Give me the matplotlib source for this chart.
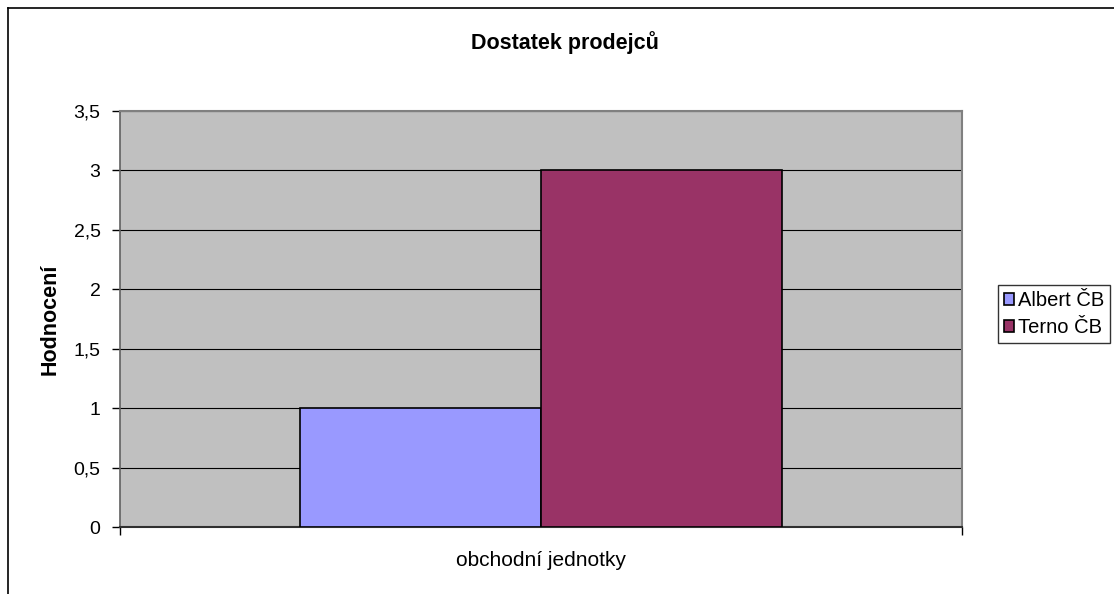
import matplotlib
matplotlib.use("Agg")
import matplotlib.pyplot as plt
from matplotlib.lines import Line2D
from matplotlib.patches import Patch
from matplotlib.ticker import FuncFormatter, MultipleLocator

plt.rcParams["font.family"] = ["Liberation Sans", "DejaVu Sans"]

# ── Data ──────────────────────────────────────────────────────────────
category = "obchodní jednotky"
series = ["Albert ČB", "Terno ČB"]
values = [1, 3]
colors = ["#9999FF", "#993366"]

W, H = 1114, 594
fig = plt.figure(figsize=(W / 100, H / 100), dpi=100, facecolor="white")

# outer chart frame (cut off at right and bottom like the original)
fx, fy = 8 / W, 1 - 8 / H
fig.add_artist(Line2D([fx, 1], [fy, fy], color="black", lw=1.2, transform=fig.transFigure))
fig.add_artist(Line2D([fx, fx], [0, fy], color="black", lw=1.2, transform=fig.transFigure))

ax = fig.add_axes([120 / W, 1 - 527 / H, (962 - 120) / W, (527 - 111) / H])
ax.set_facecolor("#C0C0C0")

bar_w = 0.286
offsets = [-bar_w / 2, bar_w / 2]
for name, val, col, off in zip(series, values, colors, offsets):
    ax.bar(off, val, width=bar_w, color=col, edgecolor="black", linewidth=1.2,
           label=name, zorder=3)

ax.set_xlim(-0.5, 0.5)
ax.set_ylim(0, 3.5)
ax.yaxis.set_major_locator(MultipleLocator(0.5))
ax.yaxis.set_major_formatter(FuncFormatter(lambda v, p: f"{v:g}".replace(".", ",")))
ax.grid(axis="y", color="black", lw=0.8, zorder=1)

ax.set_xticks([-0.5, 0.5])
ax.set_xticklabels(["", ""])
ax.tick_params(axis="x", length=6, color="black", width=1)
ax.tick_params(axis="y", length=6, color="black", width=1, labelsize=14, pad=8)
fig.text(541 / W, 1 - 560 / H, category, ha="center", va="center", fontsize=15)

for side in ["top", "right"]:
    ax.spines[side].set_color("#808080")
    ax.spines[side].set_linewidth(1.5)
ax.spines["bottom"].set_color("#303030")
ax.spines["bottom"].set_linewidth(1.5)
ax.spines["left"].set_color("#606060")
ax.spines["left"].set_linewidth(1.2)

fig.text(565 / W, 1 - 43 / H, "Dostatek prodejců", ha="center", va="center",
         fontsize=15.5, fontweight="bold")
fig.text(50 / W, 1 - 319 / H, "Hodnocení", ha="center", va="center",
         fontsize=15.5, fontweight="bold", rotation=90)

handles = [Patch(facecolor=c, edgecolor="black", lw=1.2) for c in colors]
leg = fig.legend(handles, series, loc="center left",
                 bbox_to_anchor=(998 / W, 1 - 314 / H), fontsize=14.5,
                 frameon=True, fancybox=False, handlelength=0.5, handleheight=0.5,
                 handletextpad=0.2, borderpad=0.3, labelspacing=0.4,
                 borderaxespad=0)
leg.get_frame().set_edgecolor("black")
leg.get_frame().set_linewidth(1)

fig.savefig("out.png", dpi=100, facecolor="white")
